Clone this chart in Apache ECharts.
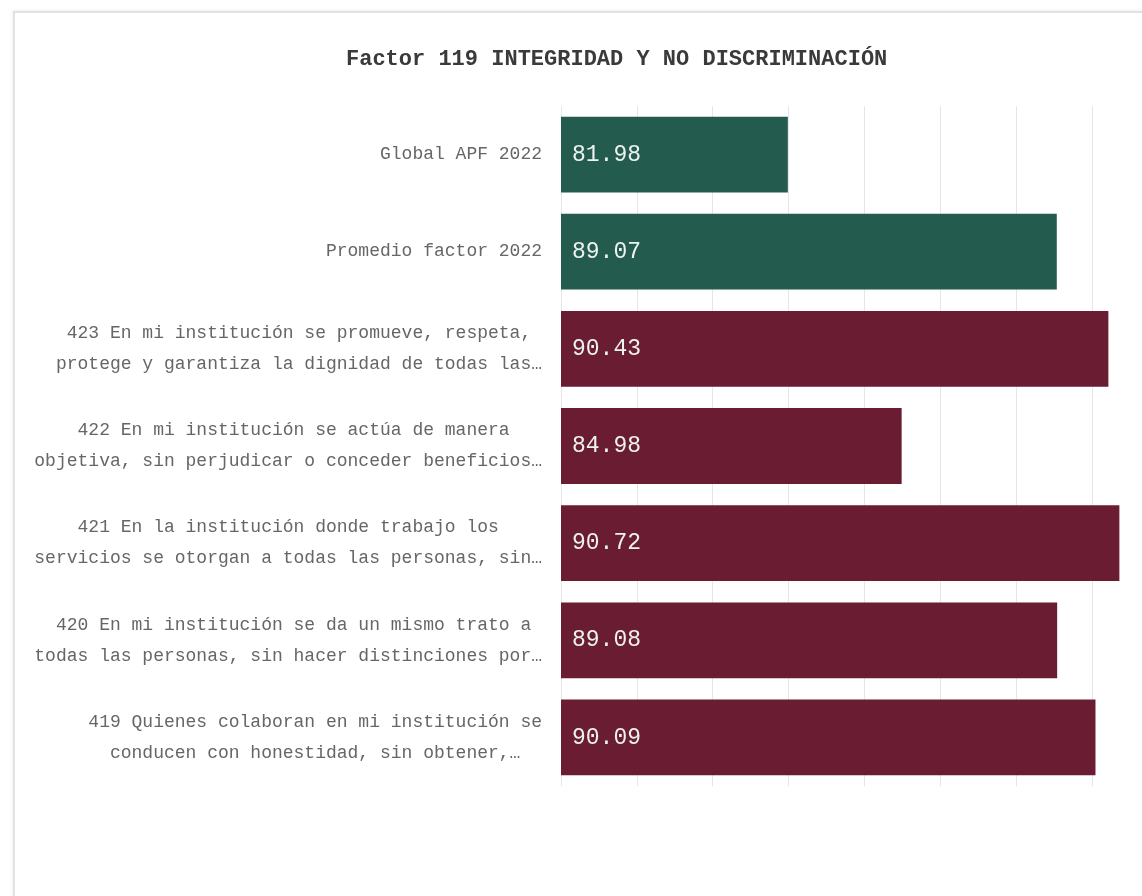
<!DOCTYPE html>
<html>
<head>
<meta charset="utf-8">
<script src="https://cdn.jsdelivr.net/npm/echarts@6/dist/echarts.min.js"></script>
<style>
  html, body { margin: 0; padding: 0; background: #fff; }
  .frame {
    position: absolute; left: 13px; top: 11px; width: 1140px; height: 900px;
    border-top: 2px solid #e2e2e2; border-left: 2px solid #e2e2e2;
    box-shadow: -1px -1px 3px rgba(0,0,0,0.06);
  }
  #chart { position: absolute; left: 0; top: 0; width: 1142px; height: 896px; }
</style>
</head>
<body>
<div class="frame"></div>
<div id="chart"></div>
<script>
// datos del factor
const titulo = 'Factor 119 INTEGRIDAD Y NO DISCRIMINACIÓN';
const reactivos = [
  'Global APF 2022',
  'Promedio factor 2022',
  '423 En mi institución se promueve, respeta,\nprotege y garantiza la dignidad de todas las…',
  '422 En mi institución se actúa de manera\nobjetiva, sin perjudicar o conceder beneficios…',
  '421 En la institución donde trabajo los\nservicios se otorgan a todas las personas, sin…',
  '420 En mi institución se da un mismo trato a\ntodas las personas, sin hacer distinciones por…',
  '419 Quienes colaboran en mi institución se\nconducen con honestidad, sin obtener,…'
];
const puntajes = [81.98, 89.07, 90.43, 84.98, 90.72, 89.08, 90.09];
const numReferencia = 2; // global y promedio van en verde

const verde = '#235B4E';
const guinda = '#691C32';
const fuente = '"Courier New", Courier, "Nimbus Mono PS", "Nimbus Mono L", FreeMono, "Liberation Mono", monospace';

// centra las lineas dentro del bloque (fuente monoespaciada)
function centrarLineas(txt) {
  const lineas = txt.split('\n');
  const max = Math.max.apply(null, lineas.map(l => l.length));
  return lineas.map(l => {
    const pad = Math.floor((max - l.length) / 2);
    return l + ' '.repeat(pad);
  }).join('\n');
}

let myChart = echarts.init(document.getElementById('chart'));
let option = {
  animation: false,
  title: {
    text: titulo,
    left: 341,
    top: 43,
    textStyle: {
      fontFamily: fuente,
      fontSize: 22,
      fontWeight: 'bold',
      color: '#3a3a3a'
    }
  },
  grid: {
    left: 561,
    right: 12,
    top: 106,
    bottom: 110
  },
  xAxis: {
    type: 'value',
    min: 76,
    max: 91,
    interval: 2,
    axisLine: { show: false },
    axisTick: { show: false },
    axisLabel: { show: false },
    splitLine: {
      show: true,
      showMaxLine: false,
      lineStyle: { color: '#e6e6e6', width: 1 }
    }
  },
  yAxis: {
    type: 'category',
    inverse: true,
    data: reactivos,
    axisLine: { show: false },
    axisTick: { show: false },
    axisLabel: {
      margin: 19,
      fontFamily: fuente,
      fontSize: 18,
      lineHeight: 31,
      color: '#666',
      align: 'right',
      formatter: centrarLineas
    }
  },
  series: [
    {
      type: 'bar',
      data: puntajes,
      barCategoryGap: '22%',
      itemStyle: {
        color: function (p) {
          return p.dataIndex < numReferencia ? verde : guinda;
        }
      },
      label: {
        show: true,
        position: 'insideLeft',
        distance: 11,
        fontFamily: 'Liberation Mono',
        fontSize: 23,
        color: '#eef2f0',
        formatter: function (p) {
          return p.value.toFixed(2);
        }
      }
    }
  ]
};
myChart.setOption(option);
</script>
</body>
</html>
